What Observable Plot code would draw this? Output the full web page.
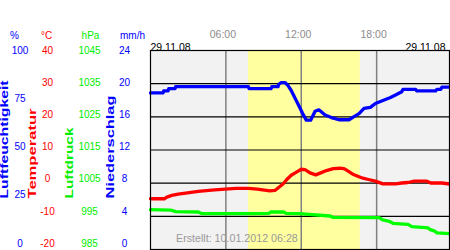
<!DOCTYPE html>
<html><head><meta charset="utf-8">
<script src="https://cdn.jsdelivr.net/npm/d3@7"></script>
<script src="https://cdn.jsdelivr.net/npm/@observablehq/plot@0.6"></script>
<style>body{margin:0;background:#fff} svg{display:block}</style>
</head><body><div id="chart"></div>
<script>
// ---- data (hours of day 29.11.08) ----
const humHours = [0,1.0,1.05,1.4,1.45,1.95,2.0,7.8,7.85,9.6,9.65,10.15,10.2,10.4,10.7,10.95,11.2,11.5,11.8,12.1,12.4,12.75,13.1,13.4,13.9,14.4,15.0,15.8,16.2,16.6,17.0,17.5,17.9,18.3,18.7,19.1,19.5,20.0,20.1,21.1,21.2,22.7,22.8,23.1,23.2,23.8];
const humidity = [78.7,78.7,79.7,79.7,80.8,80.8,81.8,81.8,80.8,80.8,81.8,81.8,82.9,83.9,83.9,82.4,79.9,76.1,72.4,68.5,65.0,65.0,69.5,70.2,67.6,66.3,65.2,65.2,66.8,68.3,70.9,71.4,73.4,74.4,75.4,76.4,77.6,79.3,80.5,80.5,79.7,79.7,80.5,80.5,81.6,81.6];

const tempHours = [0,1.1,1.3,1.7,2.2,2.8,3.8,5.1,6.8,7.8,8.5,9.5,9.9,10.2,10.55,10.85,11.2,11.65,12.0,12.3,12.7,13.15,13.55,14.0,14.55,15.1,15.45,15.7,16.1,16.5,16.9,17.35,17.9,18.5,19.5,20.0,20.5,21.0,22.0,22.3,23.2,23.8];
const temperature = [-4.7,-4.7,-4.2,-3.7,-3.3,-3.0,-2.45,-2.0,-1.6,-1.6,-1.8,-2.3,-2.2,-1.3,-0.25,1.1,2.4,3.4,4.2,4.1,3.1,2.5,3.1,3.8,4.4,4.5,4.3,3.7,2.7,2.1,1.5,1.1,0.6,-0.2,-0.2,0.05,0.2,0.6,0.6,0.05,0.05,-0.25];

const pressHours = [0,1.6,2.0,3.8,4.1,7.8,9.4,9.6,10.6,10.8,11.9,12.6,14.3,14.5,18.2,18.5,19.0,19.3,20.5,20.8,22.1,22.3,22.6,22.8,23.8];
const pressure = [997.0,996.9,996.4,996.3,995.8,995.8,995.9,996.3,996.3,995.9,995.8,995.6,995.1,994.7,994.6,993.9,993.5,992.9,992.6,991.9,991.5,990.9,990.6,990.0,989.8];

const daylight = [7.8, 16.7];
const timeTicks = [6, 12, 18];
const timeLabels = ["06:00", "12:00", "18:00"];
const humTicks = [100, 75, 50, 25, 0];
const tempTicks = [40, 30, 20, 10, 0, -10, -20];
const pressTicks = [1045, 1035, 1025, 1015, 1005, 995, 985];
const rainTicks = [24, 20, 16, 12, 8, 4, 0];
const rainGrid = [4, 8, 12, 16, 20];
const units = ["%", "°C", "hPa", "mm/h"];
const titles = ["Luftfeuchtigkeit", "Temperatur", "Luftdruck", "Niederschlag"];
const dateLabel = "29.11.08";
const created = "Erstellt: 10.01.2012 06:28";

// ---- unit conversions to a shared 0..1 vertical scale ----
const fHum = h => h / 100;
const fTemp = t => (t + 20) / 60;
const fPress = p => (p - 985) / 60;
const fRain = r => r / 24;
const labelFrac = f => (6 + 193 * f) / 199; // label column slightly compressed

const ML = 150;
const blue = "#0000ff", red = "#ff0000", green = "#00ee00";

const col = (values, conv, color, cx) => Plot.text(values, {
  text: d => String(d), y: d => labelFrac(conv(d)), frameAnchor: "left",
  dx: cx - ML, fill: color, fontSize: 10, textAnchor: "middle"
});
const head = (t, color, cx) => Plot.text([t], {
  text: d => d, frameAnchor: "top-left", dx: cx - ML, dy: -19, fill: color, fontSize: 10, textAnchor: "middle"
});
const title = (t, color, cx) => Plot.text([t], {
  text: d => d, frameAnchor: "bottom-left", rotate: -90, textAnchor: "start",
  dx: cx - ML, dy: -51, fill: color, fontSize: 10, fontWeight: "bold"
});

const chart = Plot.plot({
  width: 450, height: 250,
  marginLeft: ML, marginRight: 1, marginTop: 50, marginBottom: 1,
  style: {fontFamily: "'Liberation Sans', Arial, sans-serif", fontSize: "10px", background: "#fff"},
  x: {domain: [0, 23.8], axis: null},
  y: {domain: [0, 1], axis: null},
  marks: [
    Plot.frame({fill: "#f2f2f2", stroke: "none"}),
    Plot.rect([daylight], {x1: d => d[0], x2: d => d[1], fill: "#ffffa0"}),
    Plot.ruleX(timeTicks, {stroke: "#808080", strokeWidth: 1.5}),
    Plot.ruleY(rainGrid.map(fRain), {stroke: "#000", strokeWidth: 1.2}),
    Plot.line(humHours.map((h, i) => ({h, v: fHum(humidity[i])})), {x: "h", y: "v", stroke: blue, strokeWidth: 3.3}),
    Plot.line(tempHours.map((h, i) => ({h, v: fTemp(temperature[i])})), {x: "h", y: "v", stroke: red, strokeWidth: 3.3}),
    Plot.line(pressHours.map((h, i) => ({h, v: fPress(pressure[i])})), {x: "h", y: "v", stroke: "#00ff00", strokeWidth: 3.3}),
    Plot.frame({stroke: "#000", strokeWidth: 1.2}),
    // time labels
    Plot.text(timeTicks, {x: d => d, text: (d, i) => timeLabels[i], frameAnchor: "top", dy: -20, dx: -3, fill: "#8c8c8c", fontSize: 10.5}),
    Plot.text([dateLabel], {text: d => d, frameAnchor: "top-left", dy: -7, textAnchor: "start", fill: "#000", fontSize: 10.5}),
    Plot.text([dateLabel], {text: d => d, frameAnchor: "top-right", dy: -7, dx: -4, textAnchor: "end", fill: "#000", fontSize: 10.5}),
    Plot.text([created], {text: d => d, frameAnchor: "bottom-left", dx: 25.5, dy: -8, textAnchor: "start", fill: "#999", fontSize: 10.7}),
    // left axes
    head(units[0], blue, 14), head(units[1], red, 46), head(units[2], green, 90), head(units[3], blue, 132),
    col(humTicks, fHum, blue, 19.5),
    col(tempTicks, fTemp, red, 47),
    col(pressTicks, fPress, green, 89),
    col(rainTicks, fRain, blue, 124),
    title(titles[0], blue, 7.5),
    title(titles[1], red, 35.3),
    title(titles[2], "#00ee00", 72),
    title(titles[3], blue, 113.5)
  ]
});
const lengths = {"Luftfeuchtigkeit": 118, "Temperatur": 90, "Luftdruck": 71, "Niederschlag": 103};
chart.querySelectorAll("text").forEach(t => {
  const L = lengths[t.textContent];
  if (L) { t.setAttribute("textLength", L); t.setAttribute("lengthAdjust", "spacingAndGlyphs"); }
});
document.getElementById("chart").appendChild(chart);
</script>
</body></html>
